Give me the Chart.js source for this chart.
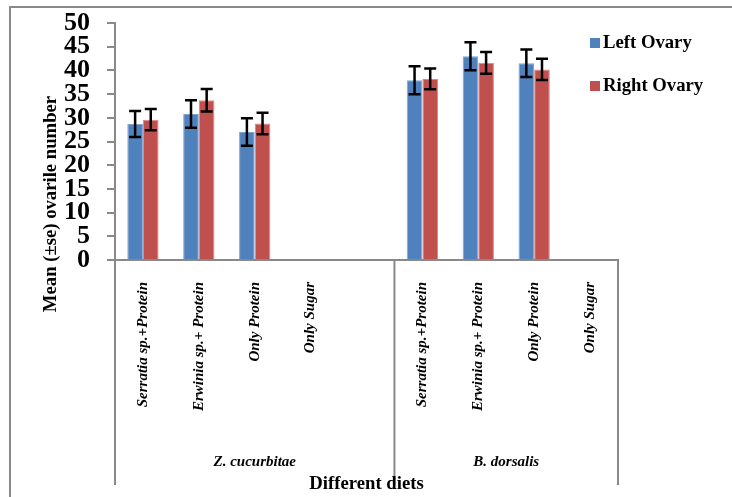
<!DOCTYPE html>
<html lang="en">
<head>
<meta charset="UTF-8">
<title>Mean ovarile number</title>
<script src="https://cdn.jsdelivr.net/npm/chart.js"></script>
<style>
  body { margin: 0; background: #fff; }
  canvas { display: block; }
</style>
</head>
<body>
<canvas id="ovaryChart" width="732" height="497"></canvas>
<script>
  // categories (blank slot between the two species, as in the original)
  const diets = ['Serratia sp.+Protein', 'Erwinia sp.+ Protein', 'Only Protein', 'Only Sugar', '',
                 'Serratia sp.+Protein', 'Erwinia sp.+ Protein', 'Only Protein', 'Only Sugar'];
  const species = ['Z. cucurbitae', 'B. dorsalis'];
  const speciesSize = [5, 4];

  // means and standard errors
  const leftOvary  = [28.7, 30.8, 27.0, null, null, 37.9, 43.0, 41.5, null];
  const rightOvary = [29.6, 33.7, 28.8, null, null, 38.2, 41.6, 40.2, null];
  const leftSE     = [2.75, 2.9, 2.9, null, null, 2.95, 2.95, 2.9, null];
  const rightSE    = [2.25, 2.35, 2.25, null, null, 2.2, 2.3, 2.25, null];

  const yTicks = [0, 5, 10, 15, 20, 25, 30, 35, 40, 45, 50];

  const serif = "'Liberation Serif', 'Times New Roman', serif";
  const grey = '#898989';

  // error bars drawn from the y scale
  const errorBars = {
    id: 'errorBars',
    afterDatasetsDraw(chart) {
      const ctx = chart.ctx;
      const y = chart.scales.y;
      const errs = [leftSE, rightSE];
      ctx.save();
      ctx.strokeStyle = '#000';
      ctx.lineWidth = 2.5;
      chart.data.datasets.forEach((ds, i) => {
        chart.getDatasetMeta(i).data.forEach((bar, j) => {
          const v = ds.data[j];
          const e = errs[i][j];
          if (v == null || e == null) return;
          const top = y.getPixelForValue(v + e);
          const bot = y.getPixelForValue(v - e);
          ctx.beginPath();
          ctx.moveTo(bar.x, top); ctx.lineTo(bar.x, bot);
          ctx.moveTo(bar.x - 6, top); ctx.lineTo(bar.x + 6, top);
          ctx.moveTo(bar.x - 6, bot); ctx.lineTo(bar.x + 6, bot);
          ctx.stroke();
        });
      });
      ctx.restore();
    }
  };

  // frame, group separators, group labels, titles and legend
  const decorations = {
    id: 'decorations',
    afterDraw(chart) {
      const ctx = chart.ctx;
      const x = chart.scales.x;
      const area = chart.chartArea;
      ctx.save();

      // outer frame
      ctx.strokeStyle = grey;
      ctx.lineWidth = 2;
      ctx.beginPath();
      ctx.moveTo(732, 7); ctx.lineTo(10, 7); ctx.lineTo(10, 497);
      ctx.stroke();

      // separators and species names
      let start = -0.5;
      ctx.beginPath();
      ctx.moveTo(x.getPixelForValue(start), area.bottom);
      ctx.lineTo(x.getPixelForValue(start), 485);
      species.forEach((name, i) => {
        const end = start + speciesSize[i];
        const x0 = x.getPixelForValue(start);
        const x1 = x.getPixelForValue(end);
        ctx.moveTo(x1, area.bottom);
        ctx.lineTo(x1, 485);
        ctx.fillStyle = '#000';
        ctx.font = 'italic bold 15px ' + serif;
        ctx.textAlign = 'center';
        ctx.textBaseline = 'middle';
        ctx.fillText(name, (x0 + x1) / 2, 462);
        start = end;
      });
      ctx.stroke();

      // axis titles
      ctx.fillStyle = '#000';
      ctx.font = 'bold 18.7px ' + serif;
      ctx.textAlign = 'center';
      ctx.textBaseline = 'middle';
      ctx.fillText('Different diets', (area.left + area.right) / 2, 484);
      ctx.save();
      ctx.translate(51, 204);
      ctx.rotate(-Math.PI / 2);
      ctx.fillText('Mean (±se) ovarile number', 0, 0);
      ctx.restore();

      // legend
      ctx.textAlign = 'left';
      chart.data.datasets.forEach((ds, i) => {
        const ly = 43 + i * 43;
        ctx.fillStyle = ds.backgroundColor;
        ctx.fillRect(590, ly - 5, 10, 10);
        ctx.fillStyle = '#000';
        ctx.fillText(ds.label, 603, ly);
      });
      ctx.restore();
    }
  };

  const chart = new Chart(document.getElementById('ovaryChart'), {
    type: 'bar',
    data: {
      labels: diets,
      datasets: [
        { label: 'Left Ovary', data: leftOvary, backgroundColor: '#4F81BD',
          borderColor: '#7fa3d3', borderWidth: 1, borderSkipped: 'bottom' },
        { label: 'Right Ovary', data: rightOvary, backgroundColor: '#C0504D',
          borderColor: '#d98a88', borderWidth: 1, borderSkipped: 'bottom' }
      ]
    },
    options: {
      responsive: false,
      animation: false,
      layout: { padding: { top: 23, right: 114, bottom: 0, left: 0 } },
      categoryPercentage: 0.56,
      barPercentage: 1.0,
      plugins: { legend: { display: false }, tooltip: { enabled: false } },
      scales: {
        x: {
          grid: { display: false, drawTicks: false },
          border: { display: true, color: grey, width: 2 },
          ticks: {
            autoSkip: false, minRotation: 90, maxRotation: 90, padding: 22,
            color: '#000', font: { family: serif, size: 15, style: 'italic', weight: 'bold' }
          },
          afterFit(scale) {
            scale.height = 237;
            scale.paddingLeft = 0; scale.paddingRight = 0;
          }
        },
        y: {
          min: 0, max: 50,
          afterBuildTicks(scale) { scale.ticks = yTicks.map(v => ({ value: v })); },
          grid: { drawOnChartArea: false, drawTicks: true, tickLength: 8, color: grey, lineWidth: 2 },
          border: { display: true, color: grey, width: 2 },
          ticks: {
            autoSkip: false, padding: 17, color: '#000',
            font: { family: serif, size: 26, weight: 'bold', lineHeight: 0.9 }
          },
          afterFit(scale) {
            scale.width = 115;
            scale.paddingTop = 0; scale.paddingBottom = 0;
          }
        }
      }
    },
    plugins: [errorBars, decorations]
  });
</script>
</body>
</html>
